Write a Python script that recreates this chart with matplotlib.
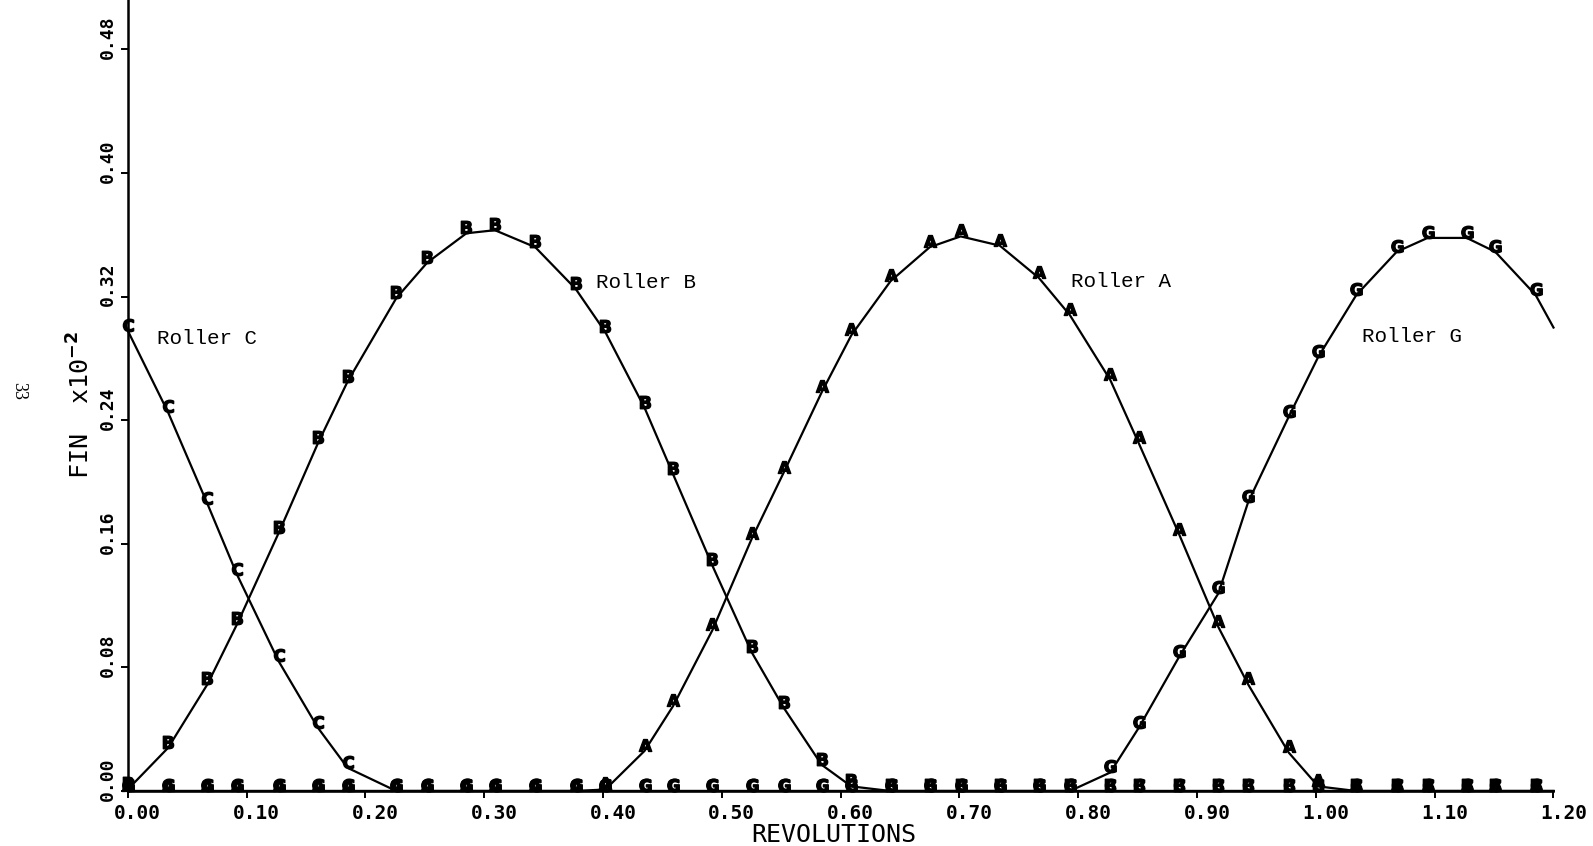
'''roller force plot'''

import matplotlib
matplotlib.use('Agg')
import matplotlib.pyplot as plt
from matplotlib.transforms import ScaledTranslation

# revolution values where the plotter put a letter (last one is the line end)
rev = [0.000, 0.034, 0.067, 0.092, 0.127, 0.160, 0.185, 0.226, 0.252, 0.285,
       0.309, 0.343, 0.377, 0.402, 0.435, 0.459, 0.492, 0.525, 0.552, 0.584,
       0.609, 0.642, 0.675, 0.701, 0.734, 0.767, 0.793, 0.827, 0.851, 0.885,
       0.918, 0.943, 0.977, 1.002, 1.034, 1.068, 1.094, 1.127, 1.151, 1.185,
       1.200]

# FIN x10^-2 for each roller
roller_c = [0.298, 0.245, 0.186, 0.140, 0.084, 0.041, 0.015] + [0.0] * 34
roller_b = [0.001, 0.028, 0.069, 0.108, 0.167, 0.225, 0.265, 0.319, 0.342, 0.361,
            0.363, 0.352, 0.325, 0.297, 0.248, 0.205, 0.146, 0.090, 0.054, 0.017,
            0.003] + [0.0] * 20
roller_a = [0.0] * 13 + \
           [0.001, 0.026, 0.055, 0.104, 0.163, 0.206, 0.258, 0.295, 0.330, 0.352,
            0.359, 0.353, 0.332, 0.308, 0.266, 0.225, 0.166, 0.106, 0.069, 0.025,
            0.003] + [0.0] * 7
roller_g = [0.0] * 27 + \
           [0.012, 0.041, 0.087, 0.128, 0.187, 0.242, 0.281, 0.321, 0.349, 0.358,
            0.358, 0.349, 0.321, 0.300]

series = [('C', roller_c), ('B', roller_b), ('A', roller_a), ('G', roller_g)]

# name, x, y of the curve captions
captions = [('Roller C', 0.025, 0.293), ('Roller B', 0.394, 0.329),
            ('Roller A', 0.794, 0.330), ('Roller G', 1.039, 0.294)]

xticks = [0.0, 0.1, 0.2, 0.3, 0.4, 0.5, 0.6, 0.7, 0.8, 0.9, 1.0, 1.1, 1.2]
yticks = [0.0, 0.08, 0.16, 0.24, 0.32, 0.40, 0.48]


def main():
    plt.rcParams['mathtext.fontset'] = 'dejavusans'
    fig = plt.figure(figsize=(15.93, 8.46), dpi=100)
    ax = fig.add_axes([0.0802, 0.065, 0.895, 0.935])

    # letters sit on top of the point, not centred on it
    lift = ax.transData + ScaledTranslation(0, 6 / 100., fig.dpi_scale_trans)
    for letter, vals in series:
        ax.plot(rev, vals, color='black', lw=1.6, clip_on=False, zorder=3)
        ax.plot(rev[:-1], vals[:-1], ls='none', marker=r'$\mathbf{%s}$' % letter,
                ms=9, color='black', transform=lift, clip_on=False, zorder=4)

    for txt, x, y in captions:
        ax.text(x, y, txt, family='Liberation Mono', fontsize=15,
                ha='left', va='center')

    ax.set_xlim(0, 1.2)
    ax.set_ylim(0, 0.512)
    ax.spines['top'].set_visible(False)
    ax.spines['right'].set_visible(False)
    ax.spines['left'].set_linewidth(1.8)
    ax.spines['bottom'].set_linewidth(1.8)

    ax.set_xticks(xticks)
    ax.set_xticklabels(['%.2f' % t for t in xticks])
    ax.set_yticks(yticks)
    ax.set_yticklabels(['%.2f' % t for t in yticks], rotation=90, va='center')
    ax.tick_params(direction='out', length=5, width=1.4, pad=3)
    ax.tick_params(axis='x', pad=4)

    # plotter labels start one character before the tick
    dx = ScaledTranslation(10 / 100., 0, fig.dpi_scale_trans)
    dy = ScaledTranslation(0, 12 / 100., fig.dpi_scale_trans)
    for lab in ax.get_xticklabels():
        lab.set_family('DejaVu Sans Mono')
        lab.set_fontweight('bold')
        lab.set_fontsize(14)
        lab.set_transform(lab.get_transform() + dx)
    for lab in ax.get_yticklabels():
        lab.set_family('DejaVu Sans Mono')
        lab.set_fontweight('bold')
        lab.set_fontsize(13)
        lab.set_transform(lab.get_transform() + dy)

    fig.text(0.5235, 0.013, 'REVOLUTIONS', family='DejaVu Sans Mono',
             fontsize=18, ha='center', va='center')
    fig.text(0.051, 0.521, r'FIN  x10$^{\mathbf{-2}}$', family='DejaVu Sans Mono',
             fontsize=18, rotation=90, ha='center', va='center')
    fig.text(0.0119, 0.538, '33', family='Liberation Serif', fontsize=13,
             rotation=-90, ha='center', va='center')

    fig.savefig('out.png', dpi=100)


if __name__ == '__main__':
    main()
